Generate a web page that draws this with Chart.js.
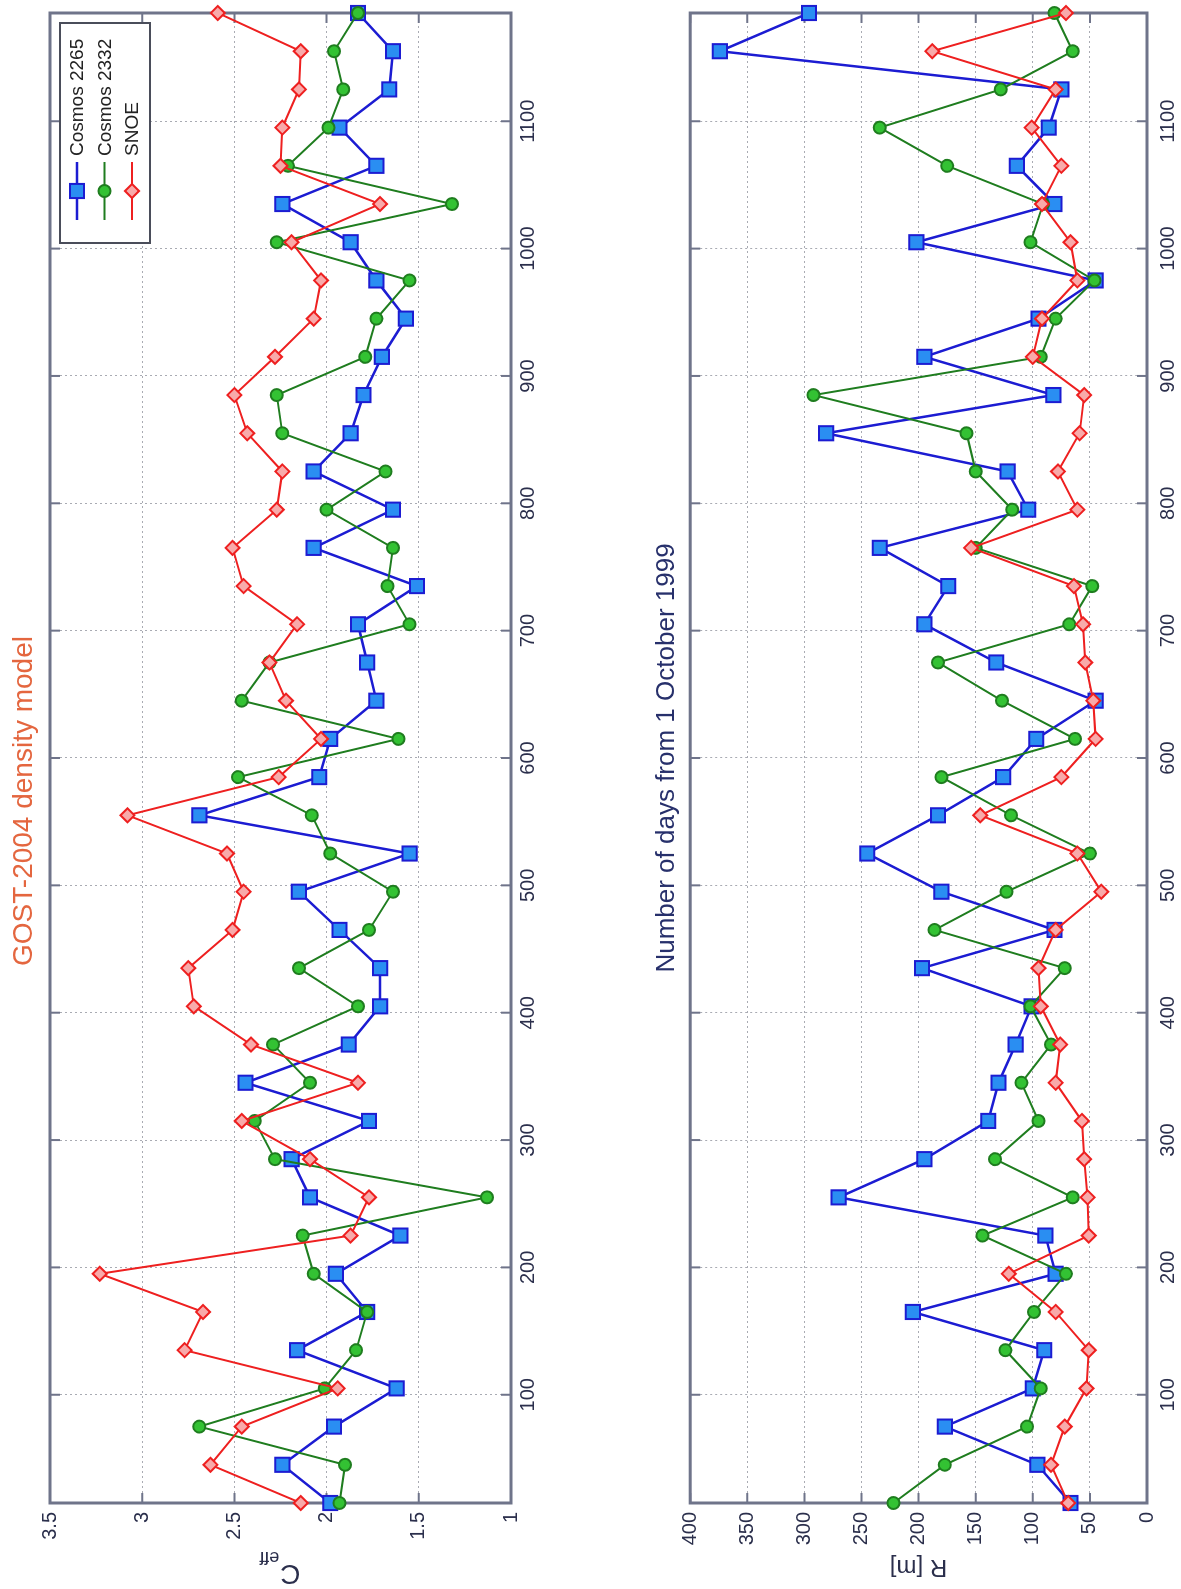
<!DOCTYPE html>
<html>
<head>
<meta charset="utf-8">
<script src="https://cdn.jsdelivr.net/npm/chart.js@4.4.0/dist/chart.umd.min.js"></script>
<style>
  html, body { margin: 0; padding: 0; background: #fff; overflow: hidden; }
  /* the figure is laid out landscape and turned a quarter turn, like the scan */
  #page {
    position: absolute; left: 0; top: 0;
    width: 1589px; height: 1181px; background: #fff;
    transform-origin: 0 0;
    transform: translate(0px, 1589px) rotate(-90deg);
  }
  canvas { display: block; }
</style>
</head>
<body>
<div id="page">
  <canvas id="cdChart" width="1589" height="600"></canvas>
  <canvas id="rChart" width="1589" height="581"></canvas>
</div>
<script>
const days = [15, 45, 75, 105, 135, 165, 195, 225, 255, 285, 315, 345, 375, 405, 435, 465, 495, 525, 555, 585,
              615, 645, 675, 705, 735, 765, 795, 825, 855, 885, 915, 945, 975, 1005, 1035, 1065, 1095, 1125, 1155, 1185];

const seriesNames = ["Cosmos 2265", "Cosmos 2332", "SNOE"];

const cd2265 = [1.98, 2.24, 1.96, 1.62, 2.16, 1.78, 1.95, 1.60, 2.09, 2.19, 1.77, 2.44, 1.88, 1.71, 1.71, 1.93, 2.15, 1.55, 2.69, 2.04,
                1.98, 1.73, 1.78, 1.83, 1.51, 2.07, 1.64, 2.07, 1.87, 1.80, 1.70, 1.57, 1.73, 1.87, 2.24, 1.73, 1.93, 1.66, 1.64, 1.83];
const cd2332 = [1.93, 1.90, 2.69, 2.01, 1.84, 1.78, 2.07, 2.13, 1.13, 2.28, 2.39, 2.09, 2.29, 1.83, 2.15, 1.77, 1.64, 1.98, 2.08, 2.48,
                1.61, 2.46, 2.31, 1.55, 1.67, 1.64, 2.00, 1.68, 2.24, 2.27, 1.79, 1.73, 1.55, 2.27, 1.32, 2.21, 1.99, 1.91, 1.96, 1.83];
const cdSnoe = [2.14, 2.63, 2.46, 1.94, 2.77, 2.67, 3.23, 1.87, 1.77, 2.09, 2.46, 1.83, 2.41, 2.72, 2.75, 2.51, 2.45, 2.54, 3.08, 2.26,
                2.03, 2.22, 2.31, 2.16, 2.45, 2.51, 2.27, 2.24, 2.43, 2.50, 2.28, 2.07, 2.03, 2.19, 1.71, 2.25, 2.24, 2.15, 2.14, 2.59];

const r2265 = [67, 96, 177, 100, 90, 205, 80, 89, 270, 195, 139, 130, 115, 101, 197, 81, 180, 245, 183, 126,
               97, 45, 132, 195, 174, 234, 104, 122, 281, 82, 195, 95, 45, 202, 81, 114, 86, 75, 374, 296];
const r2332 = [222, 177, 105, 93, 124, 99, 71, 144, 65, 133, 95, 110, 84, 102, 72, 186, 123, 50, 119, 180,
               63, 127, 183, 68, 48, 150, 118, 150, 158, 292, 93, 80, 46, 102, 91, 175, 234, 128, 65, 81];
const rSnoe = [69, 84, 72, 53, 51, 80, 121, 51, 52, 55, 57, 80, 76, 93, 95, 80, 40, 61, 146, 75,
               45, 47, 54, 56, 64, 154, 61, 78, 59, 55, 100, 92, 61, 67, 92, 75, 101, 80, 188, 71];

const dayTicks = [100, 200, 300, 400, 500, 600, 700, 800, 900, 1000, 1100];
const dayTickLabels = ["100", "200", "300", "400", "500", "600", "700", "800", "900", "1000", "1100"];
const cdTicks = [1, 1.5, 2, 2.5, 3, 3.5];
const cdTickLabels = ["1", "1.5", "2", "2.5", "3", "3.5"];
const rTicks = [0, 50, 100, 150, 200, 250, 300, 350, 400];
const rTickLabels = ["0", "50", "100", "150", "200", "250", "300", "350", "400"];

const FONT = "'Liberation Sans', Arial, sans-serif";
const AXIS_TEXT = "#2b2f4c";
const FRAME = "#6f748a";

const styles = [
  { line: "#1c1cd2", fill: "#2a8ef2", point: "rect", radius: 10, width: 2.5 },
  { line: "#1f7d1f", fill: "#33c233", point: "circle", radius: 6, width: 2 },
  { line: "#ee2020", fill: "#f8aaaa", point: "rectRot", radius: 7, width: 2 },
];

function makeDatasets(seriesList) {
  return seriesList.map((vals, i) => ({
    label: seriesNames[i],
    data: days.map((d, k) => ({ x: d, y: vals[k] })),
    borderColor: styles[i].line,
    borderWidth: styles[i].width,
    backgroundColor: styles[i].fill,
    pointStyle: styles[i].point,
    pointRadius: styles[i].radius,
    pointBackgroundColor: styles[i].fill,
    pointBorderColor: styles[i].line,
    pointBorderWidth: 2,
    tension: 0,
    clip: false,
    order: 2 - i, // SNOE drawn last, on top
  }));
}

// box around the plot plus inward tick marks, matlab style
const framePlugin = {
  id: "frame",
  beforeDatasetsDraw(chart) {
    const { ctx, chartArea: a, scales } = chart;
    const len = 10;
    ctx.save();
    ctx.strokeStyle = FRAME;
    ctx.lineWidth = 2;
    ctx.beginPath();
    scales.x.ticks.forEach((t) => {
      const px = scales.x.getPixelForValue(t.value);
      ctx.moveTo(px, a.bottom); ctx.lineTo(px, a.bottom - len);
      ctx.moveTo(px, a.top); ctx.lineTo(px, a.top + len);
    });
    scales.y.ticks.forEach((t) => {
      const py = scales.y.getPixelForValue(t.value);
      ctx.moveTo(a.left, py); ctx.lineTo(a.left + len, py);
      ctx.moveTo(a.right, py); ctx.lineTo(a.right - len, py);
    });
    ctx.stroke();
    ctx.lineWidth = 3;
    ctx.strokeRect(a.left, a.top, a.right - a.left, a.bottom - a.top);
    ctx.restore();
  },
};

// legend box in the upper right corner of the first panel
const boxLegend = {
  id: "boxLegend",
  afterDraw(chart, args, opts) {
    if (!opts.show) return;
    const { ctx, chartArea: a } = chart;
    const w = 220, h = 90;
    const x0 = a.right - 10 - w, y0 = a.top + 10;
    ctx.save();
    ctx.fillStyle = "#fff";
    ctx.fillRect(x0, y0, w, h);
    ctx.strokeStyle = "#4a4d5a";
    ctx.lineWidth = 2;
    ctx.strokeRect(x0, y0, w, h);
    chart.data.datasets.forEach((ds, i) => {
      const y = y0 + 17 + i * 27.5;
      ctx.strokeStyle = ds.borderColor;
      ctx.lineWidth = ds.borderWidth;
      ctx.beginPath();
      ctx.moveTo(x0 + 23, y); ctx.lineTo(x0 + 81, y);
      ctx.stroke();
      ctx.fillStyle = ds.pointBackgroundColor;
      ctx.lineWidth = ds.pointBorderWidth;
      Chart.helpers.drawPoint(ctx, { pointStyle: ds.pointStyle, radius: ds.pointRadius, rotation: 0, borderWidth: 2 }, x0 + 52, y);
      ctx.fillStyle = "#222";
      ctx.font = "19px " + FONT;
      ctx.textBaseline = "middle";
      ctx.textAlign = "left";
      ctx.fillText(ds.label, x0 + 87, y + 1);
    });
    ctx.restore();
  },
};

// y title with a subscript (C_eff)
const subTitle = {
  id: "subTitle",
  afterDraw(chart, args, opts) {
    if (!opts.main) return;
    const { ctx, chartArea: a } = chart;
    ctx.save();
    ctx.translate(0, (a.top + a.bottom) / 2);
    ctx.rotate(-Math.PI / 2);
    ctx.fillStyle = AXIS_TEXT;
    ctx.textBaseline = "alphabetic";
    ctx.font = "28px " + FONT;
    const wMain = ctx.measureText(opts.main).width;
    ctx.font = "18px " + FONT;
    const wSub = ctx.measureText(opts.sub).width;
    const x = -(wMain + wSub) / 2;
    ctx.font = "28px " + FONT;
    ctx.fillText(opts.main, x, 24);
    ctx.font = "18px " + FONT;
    ctx.fillText(opts.sub, x + wMain + 1, 37);
    ctx.restore();
  },
};

function makeChart(id, o) {
  return new Chart(document.getElementById(id), {
    type: "line",
    data: { datasets: makeDatasets(o.series) },
    plugins: [framePlugin, boxLegend, subTitle],
    options: {
      responsive: false,
      animation: false,
      layout: { padding: { left: 0, right: 13, top: 0, bottom: 0 } },
      plugins: {
        legend: { display: false },
        tooltip: { enabled: false },
        title: o.title,
        boxLegend: { show: o.legend },
        subTitle: o.subTitle || {},
      },
      scales: {
        x: {
          type: "linear",
          min: 15,
          max: 1185,
          afterBuildTicks: (s) => { s.ticks = dayTicks.map((v) => ({ value: v })); },
          afterFit: (s) => { s.height = o.xHeight; },
          grid: { color: "#a9abb3", lineWidth: 1, drawTicks: false },
          border: { display: false, dash: [2, 3] },
          ticks: {
            color: AXIS_TEXT, font: { family: FONT, size: 20 }, padding: o.xPad, maxRotation: 0,
            callback: (v, i) => dayTickLabels[i],
          },
        },
        y: {
          type: "linear",
          min: o.yMin,
          max: o.yMax,
          afterBuildTicks: (s) => { s.ticks = o.yTicks.map((v) => ({ value: v })); },
          afterFit: (s) => { s.width = 86; },
          grid: { color: "#a9abb3", lineWidth: 1, drawTicks: false },
          border: { display: false, dash: [2, 3] },
          ticks: {
            color: AXIS_TEXT, font: { family: FONT, size: 20 }, padding: 9,
            callback: (v, i) => o.yLabels[i],
          },
          title: o.yTitle || { display: false },
        },
      },
    },
  });
}

makeChart("cdChart", {
  series: [cd2265, cd2332, cdSnoe],
  yMin: 1, yMax: 3.5, yTicks: cdTicks, yLabels: cdTickLabels,
  xHeight: 89, xPad: 5, legend: true,
  title: {
    display: true, text: "GOST-2004 density model", color: "#e4663f",
    font: { family: FONT, size: 28, weight: "normal" }, padding: { top: 7, bottom: 9.4 },
  },
  subTitle: { main: "C", sub: "eff" },
});

makeChart("rChart", {
  series: [r2265, r2332, rSnoe],
  yMin: 0, yMax: 400, yTicks: rTicks, yLabels: rTickLabels,
  xHeight: 34, xPad: 9, legend: false,
  title: {
    display: true, text: "Number of days from 1 October 1999", color: "#27306b", fullSize: false,
    font: { family: FONT, size: 26, weight: "normal" }, padding: { top: 51, bottom: 8 },
  },
  yTitle: {
    display: true, text: "R [m]", color: AXIS_TEXT,
    font: { family: FONT, size: 24 }, padding: { top: 8, bottom: 0 },
  },
});
</script>
</body>
</html>
